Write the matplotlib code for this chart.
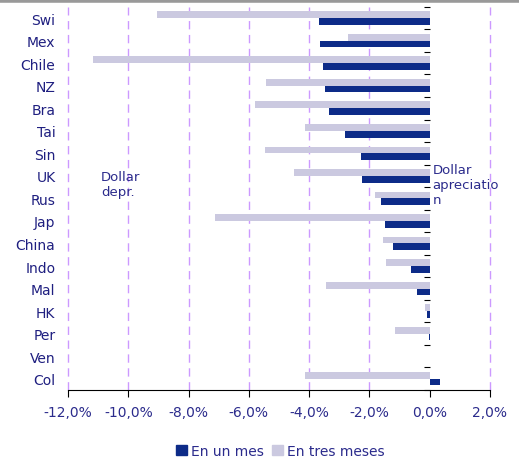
import matplotlib.pyplot as plt
import matplotlib.ticker as mticker
from matplotlib.patches import Patch
import numpy as np

countries = ['Swi', 'Mex', 'Chile', 'NZ', 'Bra', 'Tai', 'Sin', 'UK', 'Rus',
             'Jap', 'China', 'Indo', 'Mal', 'HK', 'Per', 'Ven', 'Col']
# en un mes (dark) / en tres meses (light), %
one_month = [-3.68, -3.65, -3.55, -3.48, -3.35, -2.82, -2.29, -2.25, -1.62,
             -1.49, -1.23, -0.63, -0.43, -0.10, -0.03, 0.0, 0.33]
three_months = [-9.05, -2.72, -11.17, -5.44, -5.80, -4.14, -5.47, -4.50, -1.82,
                -7.13, -1.56, -1.46, -3.45, -0.17, -1.16, 0.0, -4.14]
xticks = [-12, -10, -8, -6, -4, -2, 0, 2]

dark = '#0D2B88'
light = '#CBC9E0'
txt = '#2B2B8C'

plt.rcParams['font.family'] = ['DejaVu Sans']

fig = plt.figure(figsize=(5.19, 4.60), dpi=100)
ax = fig.add_axes([0.131, 0.15, 0.813, 0.833])

y = np.arange(len(countries))
h = 0.3
ax.barh(y - h / 2, three_months, height=h, color=light, zorder=2)
ax.barh(y + h / 2, one_month, height=h, color=dark, zorder=2)

ax.set_xlim(-12, 2)
ax.set_ylim(len(countries) - 0.5, -0.5)

ax.set_xticks(xticks)
ax.xaxis.set_major_formatter(mticker.FuncFormatter(lambda v, p: f'{v:.1f}%'.replace('.', ',')))
for v in xticks:
    if v != 0:
        ax.axvline(v, color='#CC99FF', lw=1, ls=(0, (6, 4)), zorder=1, clip_on=False)

ax.set_yticks(y)
ax.set_yticklabels(countries)
ax.tick_params(axis='y', length=0, pad=9, labelsize=10, labelcolor='#1F1F80')
ax.tick_params(axis='x', length=5, direction='out', pad=6, labelsize=10, labelcolor=txt)

for s in ['top', 'right', 'left']:
    ax.spines[s].set_visible(False)
ax.spines['bottom'].set_color('black')

# value axis crossing at 0 with category separators
sec = ax.secondary_yaxis(12 / 14)
sec.set_yticks(np.arange(len(countries) + 1) - 0.5)
sec.tick_params(axis='y', length=4, direction='out', labelleft=False, labelright=False)
sec.set_yticklabels([])
sec.spines['left'].set_color('black')
sec.spines['right'].set_visible(False)
sec.yaxis.set_ticks_position('left')

ax.text(-10.9, 7.35, 'Dollar\ndepr.', color=txt, fontsize=9.5, va='center', ha='left')
ax.text(0.1, 7.4, 'Dollar\napreciatio\nn', color=txt, fontsize=9.5, va='center', ha='left')

handles = [Patch(color=dark, label='En un mes'), Patch(color=light, label='En tres meses')]
leg = fig.legend(handles=handles, loc='lower center', bbox_to_anchor=(0.54, -0.025), ncol=2,
                 frameon=False, fontsize=10, handlelength=0.8, handleheight=0.8,
                 handletextpad=0.3, columnspacing=0.6)
for t in leg.get_texts():
    t.set_color(txt)

fig.add_artist(plt.Line2D([0, 1], [0.997, 0.997], transform=fig.transFigure, color='#999999', lw=4))

fig.savefig('out.png', dpi=100)
